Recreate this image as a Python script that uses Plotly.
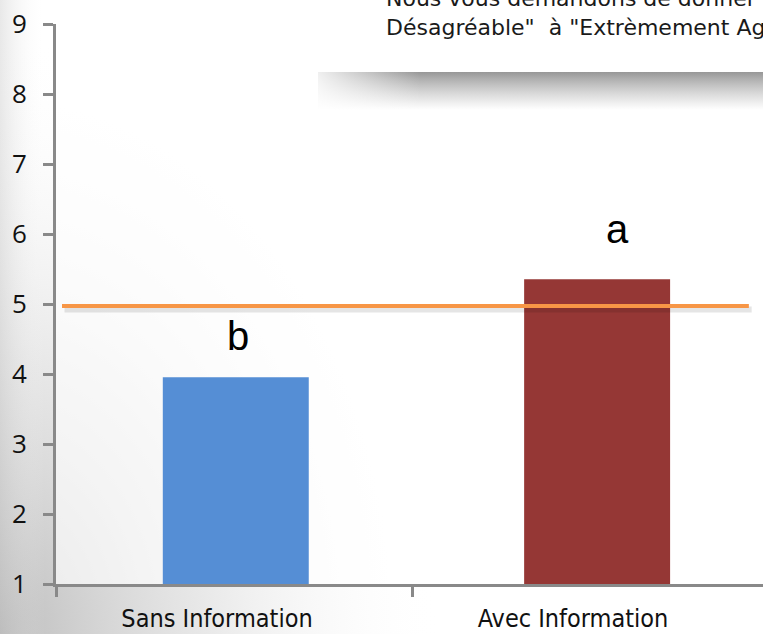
import plotly.graph_objects as go

# ---- data -------------------------------------------------------------
categories = ["Sans Information", "Avec Information"]
scores = [3.955, 5.355]
signif_letters = ["b", "a"]
neutral_level = 4.97
y_ticks = [1, 2, 3, 4, 5, 6, 7, 8, 9]
instruction_lines = [
    "Nous vous demandons de donner une note de 1 \"Extrèmement",
    "Désagréable\"  à \"Extrèmement Agréable\"",
]

# ---- page geometry ------------------------------------------------------
W, H = 763, 634


def px(x):
    """page pixel x -> paper fraction"""
    return x / W


def py(y):
    """page pixel y (from top) -> paper fraction"""
    return 1 - y / H


fig = go.Figure()


def grad_rect(x0, x1, y0, y1, gtype, scale):
    return go.Scatter(
        x=[x0, x1, x1, x0, x0], y=[y0, y0, y1, y1, y0],
        mode="lines", line=dict(width=0), fill="toself",
        fillgradient=dict(type=gtype, colorscale=scale),
        hoverinfo="skip", showlegend=False, xaxis="x", yaxis="y",
    )


def flat_rect(x0, x1, y0, y1, color):
    return go.Scatter(
        x=[x0, x1, x1, x0, x0], y=[y0, y0, y1, y1, y0],
        mode="lines", line=dict(width=0), fill="toself", fillcolor=color,
        hoverinfo="skip", showlegend=False, xaxis="x", yaxis="y",
    )


# slide background: soft grey vignette from the lower-left corner
fig.add_trace(grad_rect(-0.58, 0.58, -0.95, 0.95, "radial",
                        [[0, "rgba(185,185,185,0.95)"],
                         [0.45, "rgba(212,212,212,0.55)"],
                         [1, "rgba(255,255,255,0)"]]))
fig.add_trace(grad_rect(0, px(45), 0, 1, "horizontal",
                        [[0, "rgba(190,190,190,0.35)"],
                         [1, "rgba(255,255,255,0)"]]))
# the chart area is a lighter, translucent panel
fig.add_trace(flat_rect(px(56), 1.01, py(584), py(10), "rgba(255,255,255,0.65)"))

# drop shadow under the instruction box
fig.add_trace(grad_rect(px(318), 1.01, py(110), py(72), "vertical",
                        [[0, "rgba(160,160,160,0)"],
                         [0.45, "rgba(150,150,150,0.38)"],
                         [1, "rgba(125,125,125,0.80)"]]))
fig.add_trace(grad_rect(px(300), px(420), py(118), py(70), "horizontal",
                        [[0, "rgba(255,255,255,1)"],
                         [1, "rgba(255,255,255,0)"]]))
# instruction box
fig.add_trace(flat_rect(px(309), 1.02, py(72), 1.02, "white"))

# ---- the chart ----------------------------------------------------------
fig.add_trace(go.Bar(
    x=categories, y=scores,
    marker=dict(color=["#558ED5", "#953735"], line=dict(width=0)),
    width=0.41, offset=[-0.20, -0.185],
    hoverinfo="skip", showlegend=False,
    xaxis="x2", yaxis="y2",
))

# neutral reference line (with its soft shadow)
fig.add_shape(type="line", xref="x2 domain", yref="y2",
              x0=0.012, x1=0.984, y0=neutral_level - 0.05, y1=neutral_level - 0.05,
              line=dict(color="rgba(0,0,0,0.10)", width=6))
fig.add_shape(type="line", xref="x2 domain", yref="y2",
              x0=0.0085, x1=0.980, y0=neutral_level, y1=neutral_level,
              line=dict(color="#F79646", width=4))

# significance letters above the bars
for cat, val, letter, dx, dy in zip(categories, scores, signif_letters, [4, 27], [17, 26]):
    fig.add_annotation(x=cat, y=val, xref="x2", yref="y2", text=letter,
                       showarrow=False, xanchor="center", yanchor="bottom",
                       xshift=dx, yshift=dy,
                       font=dict(family="Liberation Sans, Arial", size=40, color="black"))

# instruction text
for line, ypix in zip(instruction_lines, [-2, 28]):
    fig.add_annotation(x=px(384), y=py(ypix), xref="paper", yref="paper",
                       text=line, showarrow=False, xanchor="left", yanchor="middle",
                       font=dict(family="DejaVu Sans", size=22, color="#1a1a1a"))

axis_grey = "#898989"
fig.update_layout(
    width=W, height=H,
    margin=dict(l=0, r=0, t=0, b=0, autoexpand=False),
    paper_bgcolor="white",
    plot_bgcolor="rgba(0,0,0,0)",
    showlegend=False,
    xaxis=dict(domain=[0, 1], range=[0, 1], visible=False, fixedrange=True),
    yaxis=dict(domain=[0, 1], range=[0, 1], visible=False, fixedrange=True),
    xaxis2=dict(
        domain=[px(56), 1], anchor="y2", type="category",
        range=[-0.5, -0.5 + (W - 56) / 356.0],
        tickson="boundaries", ticks="outside", ticklen=10, tickwidth=3,
        tickcolor=axis_grey, showline=True, linewidth=3, linecolor=axis_grey,
        showgrid=False, zeroline=False, ticklabelshift=-17, ticklabelstandoff=10,
        tickfont=dict(family="DejaVu Sans Condensed, DejaVu Sans", size=25, color="#111111"),
    ),
    yaxis2=dict(
        domain=[py(584), py(24)], anchor="x2", range=[1, 9],
        tickmode="array", tickvals=y_ticks,
        ticks="outside", ticklen=10, tickwidth=3, tickcolor=axis_grey,
        showline=True, linewidth=3, linecolor=axis_grey,
        showgrid=False, zeroline=False, ticklabelstandoff=11,
        tickfont=dict(family="Open Sans", size=26, color="#111111"),
    ),
)

fig.write_html("out.html", config={"displayModeBar": False})
